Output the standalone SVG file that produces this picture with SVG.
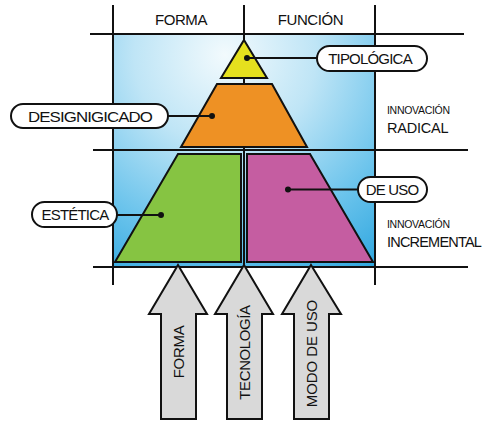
<svg xmlns="http://www.w3.org/2000/svg" width="488" height="421" viewBox="0 0 488 421">
<defs>
<radialGradient id="bg" gradientUnits="userSpaceOnUse" cx="225" cy="55" r="260">
<stop offset="0" stop-color="#f2fafd"/>
<stop offset="0.35" stop-color="#bfe5f6"/>
<stop offset="0.7" stop-color="#6cc4ec"/>
<stop offset="1" stop-color="#2ea6df"/>
</radialGradient>
<style>
.ln{stroke:#111;stroke-width:2;fill:none}
.sh{stroke:#111;stroke-width:2;stroke-linejoin:miter}
.pill{fill:#fff;stroke:#111;stroke-width:2}
.t{font-family:"Liberation Sans",Arial,sans-serif;fill:#111}
.lab{font-size:15px;letter-spacing:-0.8px;text-anchor:middle}
.hd{font-size:15px;letter-spacing:-0.4px;text-anchor:middle}
.sm{font-size:10.5px;letter-spacing:-0.3px}
.bg{font-size:14.5px;letter-spacing:-0.8px}
.arr{fill:#d9d9d9;stroke:#111;stroke-width:2;stroke-linejoin:miter}
.dot{fill:#111}
</style>
</defs>
<rect x="113" y="34" width="262" height="233" fill="url(#bg)"/>
<g id="grid">
<line class="ln" x1="113" y1="5" x2="113" y2="285"/>
<line class="ln" x1="375" y1="5" x2="375" y2="285"/>
<line class="ln" x1="244" y1="5" x2="244" y2="267"/>
<line class="ln" x1="90" y1="34" x2="464" y2="34"/>
<line class="ln" x1="93" y1="150" x2="468" y2="150"/>
<line class="ln" x1="93" y1="267" x2="468" y2="267"/>
</g>
<g id="headers">
<text class="t hd" x="181" y="25">FORMA</text>
<text class="t hd" x="310.5" y="25">FUNCIÓN</text>
</g>
<g id="tipologica-shape"><polygon class="sh" fill="#e5e01e" points="244,40 267,78 221,78"/></g>
<g id="significado-shape"><polygon class="sh" fill="#ee9124" points="217,84 272,84 307,147 181,147"/></g>
<g id="estetica-shape"><polygon class="sh" fill="#86c442" points="178,154 241,154 241,262 115,262"/></g>
<g id="deuso-shape"><polygon class="sh" fill="#c55da1" points="247,154 310,154 373,262 247,262"/></g>
<g id="connectors">
<line class="ln" x1="247" y1="58" x2="317" y2="58"/>
<line class="ln" x1="168" y1="116" x2="212" y2="116"/>
<line class="ln" x1="117" y1="215" x2="161" y2="215"/>
<line class="ln" x1="288" y1="189.5" x2="358" y2="189.5"/>
<circle class="dot" cx="247" cy="58" r="3"/>
<circle class="dot" cx="212" cy="116" r="3"/>
<circle class="dot" cx="161" cy="215" r="3"/>
<circle class="dot" cx="288" cy="189.5" r="3"/>
</g>
<g id="tipologica"><rect class="pill" x="317" y="46" width="110" height="25" rx="12.5"/><text class="t lab" x="370" y="63.5">TIPOLÓGICA</text></g>
<g id="designigicado"><rect class="pill" x="11" y="104" width="157" height="24" rx="12"/><text class="t lab" x="90" y="121.5" textLength="124" lengthAdjust="spacingAndGlyphs">DESIGNIGICADO</text></g>
<g id="estetica"><rect class="pill" x="32" y="202" width="85" height="25" rx="12.5"/><text class="t lab" x="75" y="220">ESTÉTICA</text></g>
<g id="deuso"><rect class="pill" x="358" y="177" width="69" height="25" rx="12.5"/><text class="t lab" x="392" y="195">DE USO</text></g>
<g id="radical">
<text class="t sm" x="387" y="113.5">INNOVACIÓN</text>
<text class="t bg" x="387" y="133" style="letter-spacing:-0.2px">RADICAL</text>
</g>
<g id="incremental">
<text class="t sm" x="387" y="228">INNOVACIÓN</text>
<text class="t bg" x="387" y="247">INCREMENTAL</text>
</g>
<g id="arrow-forma">
<polygon class="arr" points="178,265 207,314 196,314 196,419 161,419 161,314 149,314"/>
<text class="t" font-size="15" letter-spacing="-0.3" text-anchor="middle" transform="translate(183.5,352) rotate(-90)">FORMA</text>
</g>
<g id="arrow-tecnologia">
<polygon class="arr" points="244,265 273,314 262,314 262,419 227,419 227,314 215,314"/>
<text class="t" font-size="15" letter-spacing="-0.4" text-anchor="middle" transform="translate(249.5,352.5) rotate(-90)">TECNOLOGÍA</text>
</g>
<g id="arrow-modo">
<polygon class="arr" points="311,265 341,314 329,314 329,419 294,419 294,314 282,314"/>
<text class="t" font-size="15" letter-spacing="-0.1" text-anchor="middle" transform="translate(317,353.5) rotate(-90)">MODO DE USO</text>
</g>
</svg>
